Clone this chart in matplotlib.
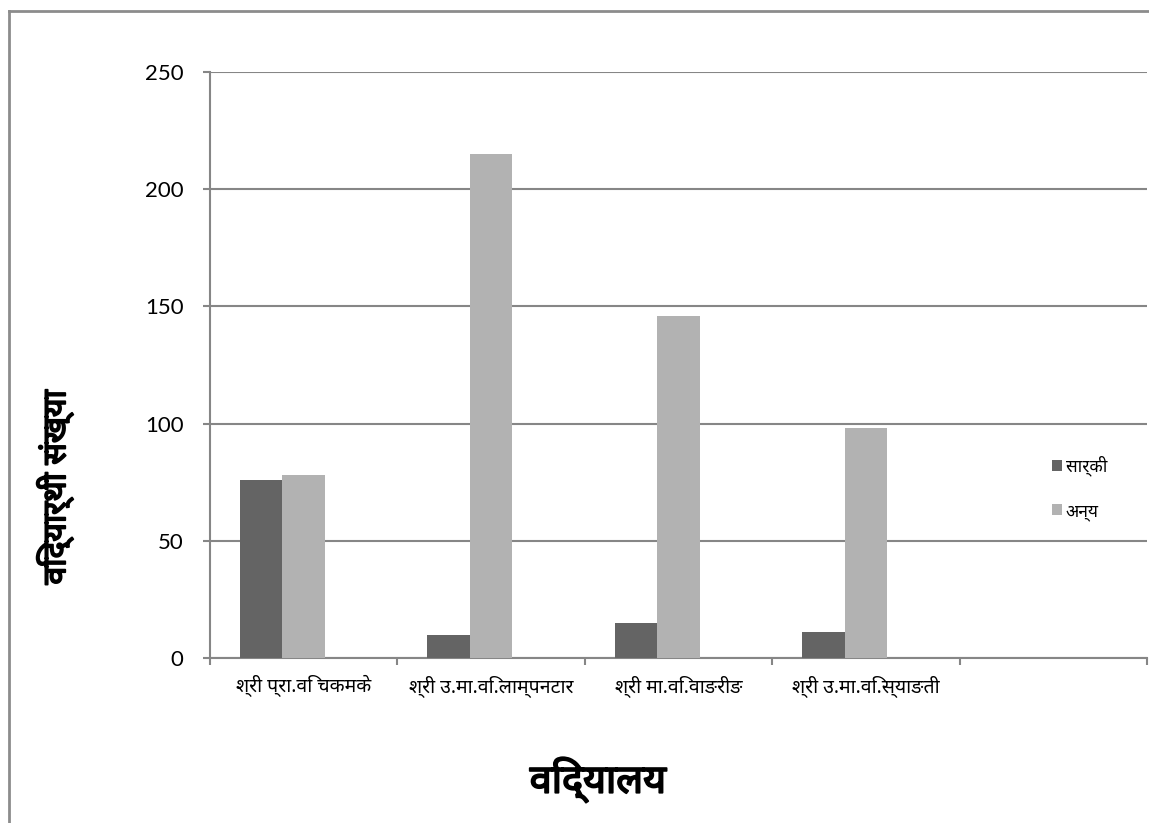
import matplotlib
matplotlib.use("Agg")
import matplotlib.pyplot as plt
import matplotlib.patheffects as pe
from matplotlib import font_manager
from matplotlib.ft2font import FT2Font
from matplotlib.lines import Line2D

categories = ["श्री प्रा.वि चकमके", "श्री उ.मा.वि.लाम्पनटार", "श्री मा.वि.वाङरीङ", "श्री उ.मा.वि.स्याङती"]
sarki = [76, 10, 15, 11]
anya = [78, 215, 146, 98]
series_names = ["सार्की", "अन्य"]
y_ticks = [0, 50, 100, 150, 200, 250]

# look for a font that has devanagari glyphs
deva = []
for f in font_manager.fontManager.ttflist:
    try:
        cm = FT2Font(f.fname).get_charmap()
    except Exception:
        continue
    if 0x0915 in cm and f.name not in deva:
        deva.append(f.name)
prefer = ["Noto Sans Devanagari", "Mukta", "Hind", "Lohit Devanagari", "FreeSans"]
chosen = [p for p in prefer if p in deva]
fam = (chosen[:1] or deva[:1]) + ["DejaVu Sans"]

plt.rcParams['font.family'] = fam

fig = plt.figure(figsize=(11.49, 8.23), dpi=100)
ax = fig.add_axes([210 / 1149, 1 - 658 / 823, 937 / 1149, 586 / 823])

n_slots = 5
n_series = 3
w = 0.227
gap = 1 - n_series * w
colors = ["#646464", "#b2b2b2"]
for k, vals in enumerate([sarki, anya]):
    xs = [i + gap / 2 + k * w for i in range(len(vals))]
    ax.bar(xs, vals, width=w, align="edge", color=colors[k], label=series_names[k], zorder=3)

ax.set_xlim(0, n_slots)
ax.set_ylim(0, 250)
ax.set_yticks(y_ticks)
ax.set_yticklabels([str(v) for v in y_ticks], fontfamily="Lato", fontsize=16)
ax.set_xticks(range(n_slots + 1))
ax.set_xticklabels([])
ax.set_xticks([i + 0.5 for i in range(len(categories))], minor=True)
ax.set_xticklabels(categories, minor=True, fontsize=14)
ax.tick_params(axis="x", which="minor", length=0, pad=12)
ax.tick_params(axis="x", which="major", length=5, color="#868686", width=1.5)
ax.tick_params(axis="y", length=5, color="#868686", width=1.5, pad=14)
ax.grid(axis="y", color="#868686", lw=1.5, zorder=0)
for s in ["top", "right"]:
    ax.spines[s].set_visible(False)
for s in ["left", "bottom"]:
    ax.spines[s].set_color("#868686")
    ax.spines[s].set_linewidth(1.5)

bold = [pe.withStroke(linewidth=1.3, foreground="black")]
fig.text(598 / 1149, 1 - 780 / 823, "विद्यालय", fontsize=28.5, fontweight="bold",
         ha="center", va="center", path_effects=bold)
fig.text(55 / 1149, 1 - 487 / 823, "विद्यार्थी संख्या", fontsize=23, fontweight="bold",
         ha="center", va="center", rotation=90, path_effects=bold)

ax.legend(loc="center left", bbox_to_anchor=(0.882, 0.29), frameon=False, fontsize=12.5,
          handlelength=0.6, handleheight=0.6, handletextpad=0.2, labelspacing=1.5)

fig.add_artist(Line2D([9 / 1149, 9 / 1149], [0, 1 - 11 / 823], color="#8c8c8c", lw=2))
fig.add_artist(Line2D([9 / 1149, 1], [1 - 11 / 823, 1 - 11 / 823], color="#8c8c8c", lw=2))

fig.savefig("out.png", dpi=100)
